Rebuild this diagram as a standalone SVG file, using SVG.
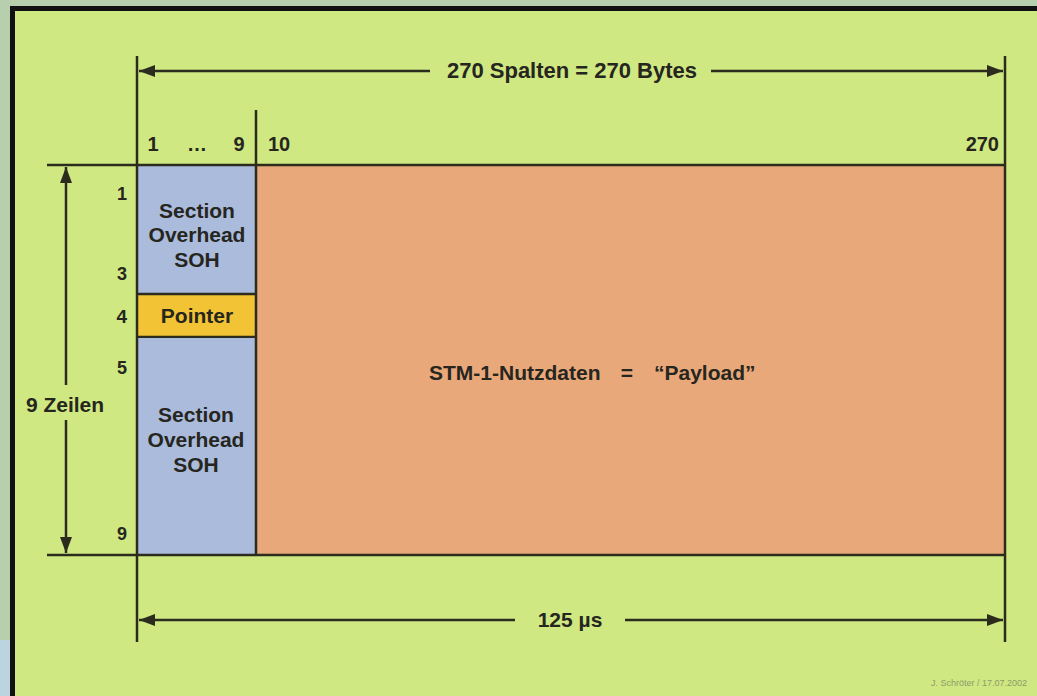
<svg xmlns="http://www.w3.org/2000/svg" width="1037" height="696" viewBox="0 0 1037 696">
  <style>
    .t { font-family: "Liberation Sans", Arial, sans-serif; font-weight: bold; fill: #26261e; }
    .ln { stroke: #2b2b1e; stroke-width: 2.5; fill: none; }
    .ar { stroke: #2b2b1e; stroke-width: 2.5; fill: none; }
  </style>
  <defs>
    <marker id="ah" viewBox="0 0 16 12" refX="16" refY="6" markerWidth="16" markerHeight="12" markerUnits="userSpaceOnUse" orient="auto-start-reverse">
      <path d="M0,0 L16,6 L0,12 Z" fill="#2b2b1e"/>
    </marker>
  </defs>

  <!-- frame -->
  <rect x="0" y="0" width="1037" height="696" fill="#b8cfae"/>
  <rect x="0" y="640" width="10" height="56" fill="#bcd4e0"/>
  <rect x="10" y="6" width="1027" height="690" fill="#111"/>
  <rect x="15" y="11" width="1022" height="685" fill="#cfe882"/>

  <!-- cells -->
  <g id="soh-top">
    <rect x="137" y="165" width="119" height="129" fill="#aabbdc"/>
    <text class="t" x="197" y="218" font-size="21" text-anchor="middle">Section</text>
    <text class="t" x="197" y="242" font-size="21" text-anchor="middle">Overhead</text>
    <text class="t" x="197" y="267" font-size="21" text-anchor="middle">SOH</text>
  </g>
  <g id="pointer">
    <rect x="137" y="294" width="119" height="43" fill="#f2c335"/>
    <line class="ln" x1="137" y1="294" x2="256" y2="294" stroke-width="2"/>
    <line class="ln" x1="137" y1="337" x2="256" y2="337" stroke-width="2"/>
    <text class="t" x="197" y="323" font-size="21" text-anchor="middle">Pointer</text>
  </g>
  <g id="soh-bottom">
    <rect x="137" y="338" width="119" height="217" fill="#aabbdc"/>
    <text class="t" x="196" y="422" font-size="21" text-anchor="middle">Section</text>
    <text class="t" x="196" y="447" font-size="21" text-anchor="middle">Overhead</text>
    <text class="t" x="196" y="472" font-size="21" text-anchor="middle">SOH</text>
  </g>
  <g id="payload">
    <rect x="256" y="165" width="749" height="390" fill="#e9a87a"/>
    <text class="t" x="429" y="380" font-size="21">STM-1-Nutzdaten</text>
    <text class="t" x="627" y="380" font-size="21" text-anchor="middle">=</text>
    <text class="t" x="654" y="380" font-size="21">“Payload”</text>
  </g>

  <!-- labels -->
  <g id="col-labels">
    <text class="t" x="153" y="151" font-size="20" text-anchor="middle">1</text>
    <text class="t" x="197" y="151" font-size="20" text-anchor="middle">…</text>
    <text class="t" x="239" y="151" font-size="20" text-anchor="middle">9</text>
    <text class="t" x="268" y="151" font-size="20">10</text>
    <text class="t" x="999" y="151" font-size="20" text-anchor="end">270</text>
  </g>
  <g id="row-labels">
    <text class="t" x="127" y="200" font-size="18" text-anchor="end">1</text>
    <text class="t" x="127" y="280" font-size="18" text-anchor="end">3</text>
    <text class="t" x="127" y="323" font-size="19" text-anchor="end">4</text>
    <text class="t" x="127" y="374" font-size="18" text-anchor="end">5</text>
    <text class="t" x="127" y="540" font-size="18" text-anchor="end">9</text>
  </g>

  <!-- connectors / dimension lines -->
  <g id="connectors">
    <line class="ln" x1="47" y1="165" x2="1005" y2="165"/>
    <line class="ln" x1="47" y1="555" x2="1005" y2="555"/>
    <line class="ln" x1="137" y1="56" x2="137" y2="642"/>
    <line class="ln" x1="1005" y1="56" x2="1005" y2="642"/>
    <line class="ln" x1="256" y1="110" x2="256" y2="555"/>

    <line class="ar" x1="430" y1="71" x2="139" y2="71" marker-end="url(#ah)"/>
    <line class="ar" x1="711" y1="71" x2="1003" y2="71" marker-end="url(#ah)"/>

    <line class="ar" x1="515" y1="620" x2="139" y2="620" marker-end="url(#ah)"/>
    <line class="ar" x1="625" y1="620" x2="1003" y2="620" marker-end="url(#ah)"/>

    <line class="ar" x1="66" y1="385" x2="66" y2="167" marker-end="url(#ah)"/>
    <line class="ar" x1="66" y1="420" x2="66" y2="553" marker-end="url(#ah)"/>
  </g>

  <g id="dim-labels">
    <text class="t" x="572" y="78" font-size="22" text-anchor="middle">270 Spalten = 270 Bytes</text>
    <text class="t" x="570" y="627" font-size="21" text-anchor="middle">125 µs</text>
    <text class="t" x="65" y="412" font-size="21" text-anchor="middle">9 Zeilen</text>
  </g>

  <text x="1027" y="686" font-family="Liberation Sans, Arial, sans-serif" font-size="9" fill="#8c9c6a" text-anchor="end">J. Schröter / 17.07.2002</text>
</svg>
